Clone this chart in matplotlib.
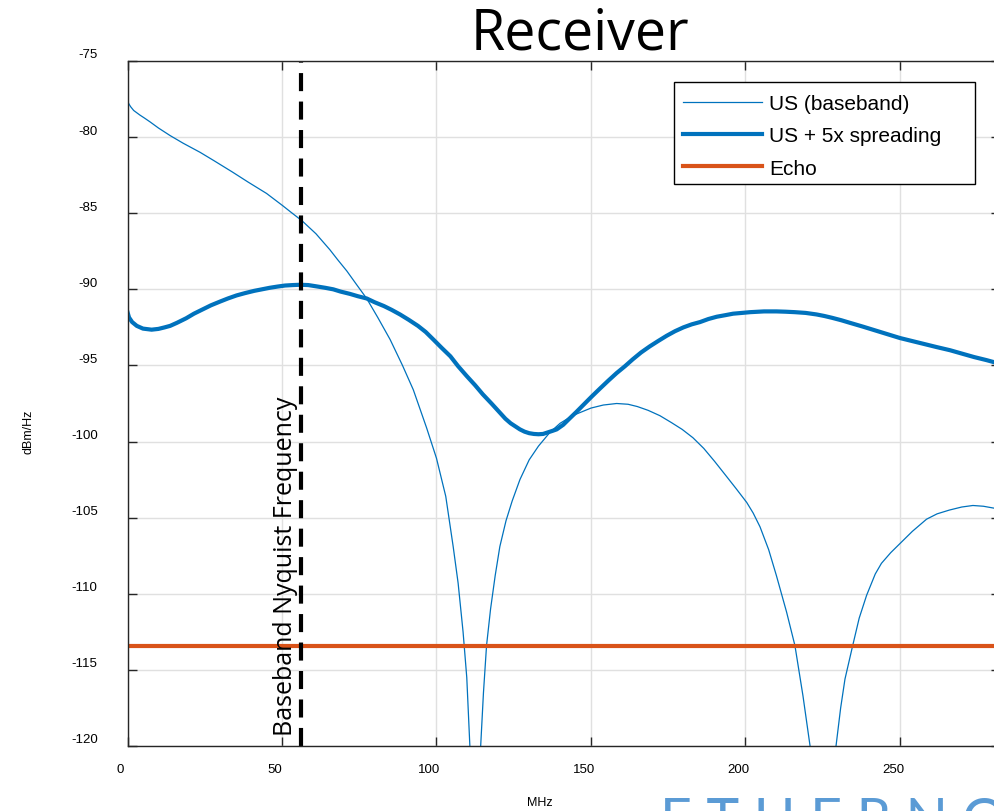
import matplotlib
matplotlib.use('Agg')
import matplotlib.pyplot as plt
import matplotlib.transforms as mtransforms
from matplotlib.patches import Rectangle

# frequency axis (MHz) and PSD values (dBm/Hz)
baseband_f = [0, 0.4, 1, 2, 3, 4, 5.5, 7.3, 10, 13.8, 18, 23.5, 28, 34, 39, 45, 50.2,
              53, 56.5, 61, 65.5, 68, 71, 74, 77.4, 81, 85, 89, 92.5, 96.8, 100, 103,
              105.4, 107, 108.6, 109.8, 110.8, 112.5, 114.3, 115.2, 116.2, 117.5, 119,
              120.5, 122.5, 124.5, 127, 130, 133, 136.7, 140, 144, 150, 154, 158.3,
              162, 165, 168.5, 172.3, 176, 179.5, 183, 186.5, 190, 193.9, 197, 200.4,
              202.5, 204.7, 207.5, 210, 213.3, 216, 218.6, 220.9, 225, 229.3, 230.8,
              232.2, 234.7, 236.8, 239.2, 242, 244, 247, 250, 254, 258.6, 262, 266,
              270, 273.6, 277, 282.5]
baseband_db = [-77.6, -77.8, -78.0, -78.25, -78.4, -78.55, -78.75, -79.0, -79.4, -79.9,
               -80.4, -81.0, -81.55, -82.3, -82.95, -83.7, -84.5, -84.95, -85.5, -86.35,
               -87.4, -88.05, -88.8, -89.65, -90.6, -91.85, -93.3, -95.0, -96.6, -99.1,
               -101.1, -103.6, -106.9, -109.3, -112.5, -115.5, -120, -135, -120, -116.5,
               -113.4, -111.0, -108.8, -106.9, -105.2, -103.9, -102.5, -101.2, -100.3,
               -99.4, -98.8, -98.3, -97.8, -97.6, -97.5, -97.55, -97.7, -97.95, -98.3,
               -98.75, -99.2, -99.75, -100.45, -101.3, -102.3, -103.1, -104.0, -104.7,
               -105.6, -107.1, -108.8, -111.2, -113.4, -116.7, -120, -135, -120, -117.5,
               -115.6, -113.4, -111.6, -110.1, -108.7, -108.0, -107.3, -106.7, -105.9,
               -105.1, -104.75, -104.5, -104.3, -104.2, -104.25, -104.45]

spread_f = [0, 0.5, 1.5, 3, 5, 7.8, 10, 12, 13.8, 16, 19, 21.5, 24.5, 27, 30, 32.5,
            35.3, 38, 41, 43.5, 46, 48.5, 51, 53.5, 55.8, 58.5, 61, 64, 66.6, 69, 72,
            74.5, 77.4, 80, 83, 85.5, 88.2, 91, 94, 96.5, 99, 101.7, 104.5, 107, 109.8,
            112.5, 115, 117.8, 120.5, 122.3, 124, 125.5, 127, 128.5, 130, 131.5, 133,
            134.5, 136, 137.5, 138.9, 141, 143, 145.3, 147.5, 150.2, 153, 155.6, 158.3,
            161, 163.5, 166.2, 169, 171.7, 174.5, 177.2, 179.9, 182.6, 185.3, 188,
            190.7, 193.4, 196, 198.8, 201.5, 206, 210, 213, 216, 219.5, 223, 225.5,
            228, 231, 233.8, 238, 242, 246, 250, 254, 258, 262, 266.2, 270, 274, 278,
            282.5]
spread_db = [-91.5, -91.85, -92.15, -92.4, -92.58, -92.65, -92.6, -92.5, -92.4, -92.2,
             -91.9, -91.6, -91.3, -91.05, -90.8, -90.6, -90.4, -90.25, -90.1, -90.0,
             -89.9, -89.82, -89.75, -89.72, -89.7, -89.72, -89.8, -89.9, -90.0, -90.15,
             -90.3, -90.45, -90.6, -90.85, -91.1, -91.35, -91.65, -92.0, -92.4, -92.8,
             -93.3, -93.85, -94.4, -95.05, -95.7, -96.3, -96.9, -97.5, -98.1, -98.5,
             -98.8, -99.0, -99.2, -99.35, -99.45, -99.5, -99.52, -99.5, -99.4, -99.3,
             -99.2, -98.9, -98.5, -98.05, -97.6, -97.05, -96.5, -96.0, -95.5, -95.05,
             -94.6, -94.15, -93.75, -93.4, -93.05, -92.75, -92.5, -92.3, -92.15, -91.95,
             -91.8, -91.7, -91.6, -91.55, -91.5, -91.45, -91.45, -91.47, -91.5, -91.55,
             -91.65, -91.75, -91.87, -92.03, -92.2, -92.45, -92.7, -92.95, -93.2, -93.4,
             -93.6, -93.8, -94.0, -94.22, -94.45, -94.65, -94.9]

echo_f = [0, 282.5]
echo_db = [-113.4, -113.4]

nyquist_mhz = 56.25

x_ticks = [0, 50, 100, 150, 200, 250]
y_ticks = [-120, -115, -110, -105, -100, -95, -90, -85, -80, -75]

COLOR_BLUE = '#0072BD'
COLOR_ORANGE = '#D95319'
COLOR_AXIS = '#262626'

plt.rcParams['font.family'] = ['Liberation Sans', 'DejaVu Sans']
plt.rcParams['axes.unicode_minus'] = False
plt.rcParams['lines.scale_dashes'] = False

fig = plt.figure(figsize=(9.94, 8.12), dpi=100)
ax = fig.add_axes([127.5 / 994, 65 / 812, 872.9 / 994, 685 / 812])

ax.plot(baseband_f, baseband_db, color=COLOR_BLUE, lw=0.9, label='US (baseband)')
ax.plot(spread_f, spread_db, color=COLOR_BLUE, lw=3, label='US + 5x spreading')
ax.plot(echo_f, echo_db, color=COLOR_ORANGE, lw=3, label='Echo')
ax.axvline(nyquist_mhz, color='black', lw=3, dashes=(13, 7.5))

ax.text(51, -119.3, 'Baseband Nyquist Frequency', rotation=90, ha='center',
        va='bottom', fontsize=18, family=['Open Sans', 'DejaVu Sans'])

ax.set_xlim(0, 282.5)
ax.set_ylim(-120, -75)
ax.set_xticks(x_ticks)
ax.set_yticks(y_ticks)
ax.grid(True, color='#e0e0e0', lw=1)
ax.set_axisbelow(True)
for s in ax.spines.values():
    s.set_color(COLOR_AXIS)
    s.set_linewidth(1)
ax.tick_params(direction='in', length=6.5, width=1, color=COLOR_AXIS,
               top=True, right=True, labelsize=9.5)
ax.tick_params(axis='x', pad=12)
ax.tick_params(axis='y', pad=21.5)

# the tick labels sit slightly off their ticks in the original
dx = mtransforms.ScaledTranslation(-7 / 100, 0, fig.dpi_scale_trans)
dy = mtransforms.ScaledTranslation(0, 8 / 100, fig.dpi_scale_trans)
for lbl in ax.get_xticklabels():
    lbl.set_transform(lbl.get_transform() + dx)
for lbl in ax.get_yticklabels():
    lbl.set_transform(lbl.get_transform() + dy)

# legend box is wider than its entries, so draw the frame separately
ax.add_patch(Rectangle((0.626, 0.820), 0.345, 0.149, transform=ax.transAxes,
                       facecolor='white', edgecolor='black', lw=1, zorder=4))
leg = ax.legend(loc='upper left', bbox_to_anchor=(0.636, 0.952), borderaxespad=0,
                fontsize=15, frameon=False, handlelength=3.8, handletextpad=0.35,
                labelspacing=0.64, borderpad=0)
leg.set_zorder(5)

fig.text(580 / 994, 1 - 35 / 812, 'Receiver', ha='center', va='center',
         fontsize=40, family=['Open Sans', 'DejaVu Sans'])
fig.text(540 / 994, 1 - 803 / 812, 'MHz', ha='center', va='center', fontsize=9)
fig.text(28 / 994, 1 - 432 / 812, 'dBm/Hz', ha='center', va='center',
         rotation=90, fontsize=9)
fig.text(660 / 994, 1 - 797 / 812, 'E T H E R N O V I A', ha='left', va='top',
         fontsize=40, color='#5b9bd5', family=['Lato', 'DejaVu Sans'])

fig.savefig('out.png', dpi=100)
